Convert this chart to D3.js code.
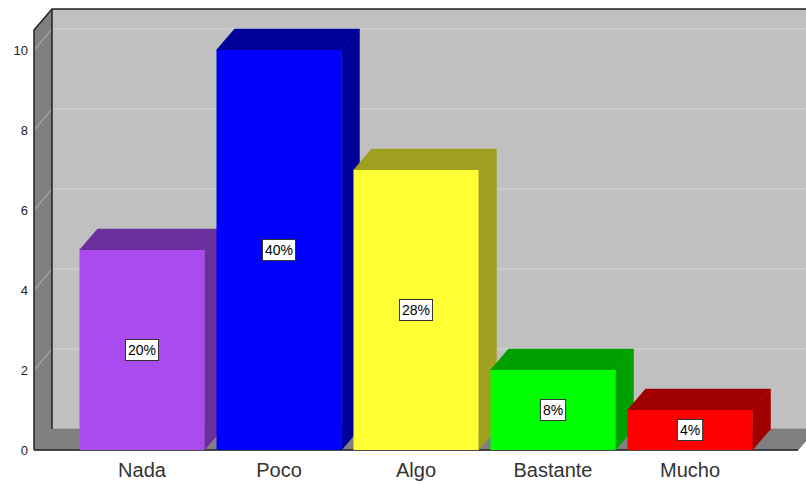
<!DOCTYPE html>
<html><head><meta charset="utf-8">
<script src="https://cdn.jsdelivr.net/npm/d3@7"></script>
<style>body{margin:0;background:#fff}svg{display:block}</style>
</head><body>
<svg id="c" width="806" height="484"></svg>
<script>
const categories = ["Nada", "Poco", "Algo", "Bastante", "Mucho"];
const values = [5, 10, 7, 2, 1];
const percentLabels = ["20%", "40%", "28%", "8%", "4%"];
const frontColors = ["#aa4bf0", "#0000ff", "#ffff33", "#00ff00", "#ff0000"];
const sideColors = ["#6b2f9b", "#000099", "#a0a020", "#00a000", "#a00000"];
const yTicks = [0, 2, 4, 6, 8, 10];

const svg = d3.select("#c");
const DX = 18, DY = 21;
const x0 = 34, x1 = 798, yBase = 450;
const x = d3.scaleBand().domain(categories).range([x0, x1]).paddingInner(0.0876).paddingOuter(0.332);
const y = d3.scaleLinear().domain([0, 10.5]).range([yBase, 30]);
const yTop = y(10.5);
const font = "'Liberation Sans', Arial, sans-serif";

// back wall
svg.append("rect").attr("x", x0 + DX).attr("y", yTop - DY).attr("width", 820 - x0 - DX).attr("height", yBase - yTop)
  .attr("fill", "#c0c0c0");
// left wall
svg.append("polygon").attr("points", [[x0, yBase], [x0, yTop], [x0 + DX, yTop - DY], [x0 + DX, yBase - DY]].join(" "))
  .attr("fill", "#808080");
// gridlines
yTicks.forEach(v => {
  svg.append("line").attr("x1", x0 + DX).attr("x2", 820).attr("y1", y(v) - DY).attr("y2", y(v) - DY)
    .attr("stroke", "#d6d6d6").attr("stroke-width", 1);
  svg.append("line").attr("x1", x0).attr("x2", x0 + DX).attr("y1", y(v)).attr("y2", y(v) - DY)
    .attr("stroke", "#b8b8b8").attr("stroke-width", 1);
});
// outlines
svg.append("path").attr("d", `M${x0},${yBase}V${yTop}L${x0 + DX},${yTop - DY}H820`)
  .attr("fill", "none").attr("stroke", "#222").attr("stroke-width", 1.5);
svg.append("line").attr("x1", x0 + DX).attr("x2", x0 + DX).attr("y1", yTop - DY).attr("y2", yBase - DY)
  .attr("stroke", "#222").attr("stroke-width", 1.5);
// floor
svg.append("polygon").attr("points", [[x0, yBase], [x0 + DX, yBase - DY], [x1 + DX, yBase - DY], [x1, yBase]].join(" "))
  .attr("fill", "#808080").attr("stroke", "#777").attr("stroke-width", 0.8);
svg.append("line").attr("x1", x0).attr("x2", x1).attr("y1", yBase).attr("y2", yBase)
  .attr("stroke", "#222").attr("stroke-width", 1.5);

// bars
const g = svg.append("g");
categories.forEach((c, i) => {
  const bx = x(c), w = x.bandwidth(), yt = y(values[i]), yb = y(0);
  g.append("polygon").attr("points", [[bx, yt], [bx + DX, yt - DY], [bx + w + DX, yt - DY], [bx + w, yt]].join(" "))
    .attr("fill", sideColors[i]).attr("stroke", sideColors[i]).attr("stroke-width", 0.5);
  g.append("polygon").attr("points", [[bx + w, yt], [bx + w + DX, yt - DY], [bx + w + DX, yb - DY], [bx + w, yb]].join(" "))
    .attr("fill", sideColors[i]).attr("stroke", sideColors[i]).attr("stroke-width", 0.5);
  g.append("rect").attr("x", bx).attr("y", yt).attr("width", w).attr("height", yb - yt)
    .attr("fill", frontColors[i]);
});

// value labels
categories.forEach((c, i) => {
  const cx = x(c) + x.bandwidth() / 2, cy = (y(values[i]) + y(0)) / 2;
  const t = svg.append("text").attr("x", cx).attr("y", cy + 5).attr("text-anchor", "middle")
    .attr("font-family", font).attr("font-size", 14).attr("fill", "#000").text(percentLabels[i]);
  const bb = t.node().getBBox();
  svg.insert("rect", () => t.node()).attr("x", bb.x - 2.5).attr("y", cy - 10.5).attr("width", bb.width + 5).attr("height", 21)
    .attr("fill", "#fff").attr("stroke", "#333").attr("stroke-width", 1);
});

// y tick labels
yTicks.forEach(v => {
  svg.append("text").attr("x", 28).attr("y", y(v) + 5).attr("text-anchor", "end")
    .attr("font-family", font).attr("font-size", 13).attr("fill", "#222").text(v);
});
// category labels
categories.forEach(c => {
  svg.append("text").attr("x", x(c) + x.bandwidth() / 2).attr("y", 477).attr("text-anchor", "middle")
    .attr("font-family", font).attr("font-size", 20).attr("fill", "#333").text(c);
});
</script>
</body></html>
